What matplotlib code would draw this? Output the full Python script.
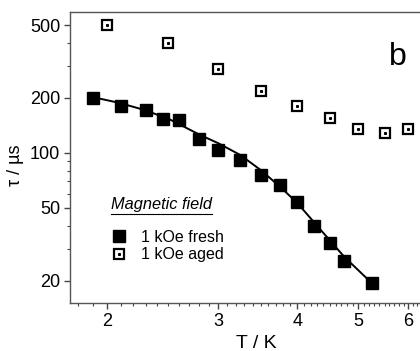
import numpy as np
import matplotlib.pyplot as plt
from matplotlib.legend_handler import HandlerTuple
from matplotlib.lines import Line2D

plt.rcParams['font.family'] = ['Liberation Sans', 'DejaVu Sans']

# 1 kOe fresh (filled squares)
t_fresh = [1.9, 2.1, 2.3, 2.45, 2.6, 2.8, 3.0, 3.25, 3.5, 3.75, 4.0, 4.25, 4.5, 4.75, 5.25]
tau_fresh = [199, 181, 172, 153, 151, 119, 104, 91.5, 76, 67, 54, 40, 32.3, 25.6, 19.5]

# 1 kOe aged (open squares)
t_aged = [2.0, 2.5, 3.0, 3.5, 4.0, 4.5, 5.0, 5.5, 6.0]
tau_aged = [502, 398, 288, 219, 181, 155, 135, 129, 135]

# fit curve
t_fit = [1.9, 2.09, 2.29, 2.51, 2.8, 3.0, 3.25, 3.5, 3.76, 4.0, 4.25, 4.5, 4.75, 5.25]
tau_fit = [202, 188, 172, 153, 126, 113, 97.5, 80.7, 65.2, 53.3, 41.9, 33.4, 27.0, 19.4]

y_major = [20, 50, 100, 200, 500]
y_minor = [30, 40, 60, 70, 80, 90, 300, 400]
x_major = [2, 3, 4, 5, 6]

fig = plt.figure(figsize=(4.2, 3.51), dpi=100)
ax = fig.add_axes([70/420, 48/351, 350/420, 291/351])

ax.plot(t_fit, tau_fit, color='black', lw=1.4, zorder=2)
fresh, = ax.plot(t_fresh, tau_fresh, 's', color='black', ms=8.5, zorder=3, linestyle='none')
aged_box, = ax.plot(t_aged, tau_aged, 's', mfc='white', mec='black', mew=1.6, ms=6.5,
                    linestyle='none', zorder=3)
aged_dot, = ax.plot(t_aged, tau_aged, 's', color='black', ms=1.2, linestyle='none', zorder=4)

ax.set_xscale('log')
ax.set_yscale('log')
ax.set_xlim(1.746, 6.26)
ax.set_ylim(15.1, 591)

ax.set_xticks(x_major)
ax.set_xticklabels([str(v) for v in x_major])
ax.set_xticks([v for v in np.arange(1.8, 6.25, 0.1) if abs(v - round(v)) > 0.01], minor=True)
ax.xaxis.set_minor_formatter(plt.NullFormatter())
ax.set_yticks(y_major)
ax.set_yticklabels([str(v) for v in y_major])
ax.set_yticks(y_minor, minor=True)
ax.yaxis.set_minor_formatter(plt.NullFormatter())

ax.tick_params(which='major', direction='out', length=4, width=1, color='#444',
               labelsize=13, pad=3.5)
ax.tick_params(which='minor', direction='out', length=2.5, width=0.8, color='#444')
ax.tick_params(axis='y', which='major', pad=3)

for side in ['top', 'left', 'bottom']:
    ax.spines[side].set_color('#555')
    ax.spines[side].set_linewidth(1.0)
ax.spines['right'].set_visible(False)

fig.text(256/420, 1 - 343/351, 'T / K', ha='center', va='center', fontsize=14)
fig.text(16/420, 1 - 165/351, 'τ / µs', ha='center', va='center', rotation=90, fontsize=13)
fig.text(398/420, 1 - 57/351, 'b', ha='center', va='center', fontsize=23)

ttl = fig.text(111/420, 1 - 205/351, 'Magnetic field', style='italic', fontsize=11.8,
               ha='left', va='center')
fig.canvas.draw()
bb = ttl.get_window_extent().transformed(fig.transFigure.inverted())
fig.add_artist(Line2D([bb.x0, bb.x1], [bb.y0 - 0.004, bb.y0 - 0.004], color='black',
                      lw=0.8, transform=fig.transFigure))

ax.legend([fresh, (aged_box, aged_dot)], ['1 kOe fresh', '1 kOe aged'],
          handler_map={tuple: HandlerTuple(ndivide=1)},
          loc='upper left', bbox_to_anchor=(103/420, 1 - 222/351),
          bbox_transform=fig.transFigure, frameon=False, fontsize=11.5,
          handlelength=1.0, handletextpad=0.9, labelspacing=0.15, borderpad=0)

fig.savefig('out.png', dpi=100)
